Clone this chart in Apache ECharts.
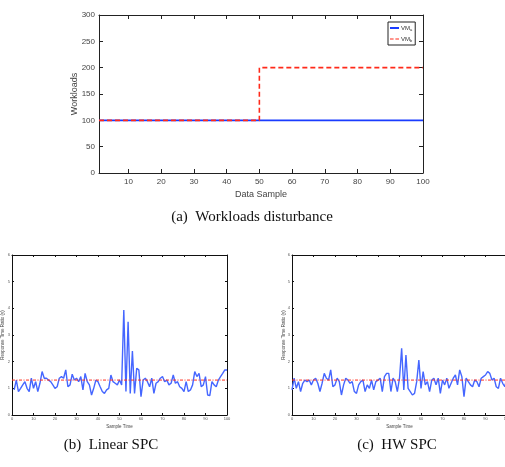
<!DOCTYPE html>
<html>
<head>
<meta charset="utf-8">
<script src="https://cdn.jsdelivr.net/npm/echarts@6/dist/echarts.min.js"></script>
<style>
html,body{margin:0;padding:0;background:#fff;}
#c{width:505px;height:467px;}
</style>
</head>
<body>
<div id="c"></div>
<script>
// ---- Data ----
// (a) Workloads disturbance: step functions [sample, workload]
var vmA = [[1, 100], [100, 100]];
var vmB = [[1, 100], [50, 100], [50, 200], [100, 200]];
var workloadTicks = [10, 20, 30, 40, 50, 60, 70, 80, 90, 100];

// (b) Linear SPC response time ratio, samples 1..100
var linearStart = 1;
var linearSPC = [
  0.94,1.31,0.88,1.0,1.13,1.25,1.0,0.88,1.38,1.0,
  1.25,0.88,1.19,1.63,1.38,1.38,1.31,1.25,1.13,1.0,
  1.06,1.38,1.44,1.38,1.69,1.06,1.13,1.53,1.31,1.38,
  1.25,1.44,0.94,1.56,1.25,1.13,0.75,1.0,1.31,1.25,
  1.06,0.88,0.81,0.94,1.0,1.5,1.25,1.19,1.13,1.31,
  1.13,3.94,0.88,3.5,0.81,2.4,0.81,1.75,1.69,0.69,
  1.31,1.38,1.25,1.06,1.38,0.81,1.19,1.25,1.38,1.44,
  1.25,1.31,1.13,1.19,1.5,1.19,1.25,1.06,1.0,0.88,
  1.25,0.88,0.94,1.13,1.63,1.44,1.56,1.06,1.13,1.44,
  0.75,0.73,1.25,1.13,1.06,1.31,1.44,1.56,1.69,1.69
];
// (c) HW SPC response time ratio, samples 0..100
var hwStart = 0;
var hwSPC = [
  0.94,1.38,1.0,1.25,0.88,1.19,1.31,1.25,1.31,1.13,
  1.31,1.38,1.19,0.88,1.19,1.56,1.38,1.31,1.69,1.06,
  1.13,1.38,1.25,0.75,1.13,1.38,1.31,1.19,1.25,0.88,
  0.81,1.13,1.25,1.31,0.88,1.13,1.0,1.31,0.94,1.25,
  1.31,1.38,0.88,1.44,1.56,1.56,0.88,1.38,1.25,0.88,
  1.38,2.5,0.94,2.25,1.0,0.88,0.75,0.81,1.25,2.06,
  1.0,1.63,1.13,1.25,0.88,1.31,1.38,1.13,1.38,0.81,
  1.31,1.13,1.38,1.0,1.19,1.38,1.5,1.13,1.69,1.44,
  0.69,1.38,1.25,1.13,1.06,1.31,1.25,1.06,1.38,1.44,
  1.5,1.63,1.56,1.31,1.38,1.06,1.0,1.38,1.19,1.06,1.44
];
var controlLimit = 1.31;
var controlRange = [0, 100];

// ---- Build ----
function pairs(arr, start) { return arr.map(function (v, i) { return [start + i, v]; }); }
function limitLine() { return controlRange.map(function (x) { return [x, controlLimit]; }); }

var sans = 'Liberation Sans, Arial, sans-serif';
var serif = 'Liberation Serif, Times New Roman, serif';

function smallX(gi, pos, labels) {
  return {
    gridIndex: gi, type: 'value', position: pos, min: 0, max: 100, interval: 10,
    axisLine: { show: true, onZero: false, lineStyle: { color: '#111', width: 1 } },
    axisTick: { show: true, inside: true, length: 2, lineStyle: { color: '#111' } },
    axisLabel: { show: labels, fontSize: 4, color: '#555', margin: 2, fontFamily: sans, hideOverlap: false },
    splitLine: { show: false },
    name: labels ? 'Sample Time' : '', nameLocation: 'middle', nameGap: 9, nameMoveOverlap: false,
    nameTextStyle: { fontSize: 4.5, color: '#444', fontFamily: sans }
  };
}
function smallY(gi, pos, labels, nameGap) {
  return {
    gridIndex: gi, type: 'value', position: pos, min: 0, max: 6, interval: 1,
    axisLine: { show: true, onZero: false, lineStyle: { color: '#111', width: 1 } },
    axisTick: { show: true, inside: true, length: 2, lineStyle: { color: '#111' } },
    axisLabel: { show: labels, fontSize: 4, color: '#555', margin: 2, fontFamily: sans },
    splitLine: { show: false },
    name: labels ? 'Response Time Ratio (y)' : '', nameLocation: 'middle', nameGap: nameGap, nameMoveOverlap: false,
    nameTextStyle: { fontSize: 4.5, color: '#444', fontFamily: sans }
  };
}

var topAxisLine = { show: true, onZero: false, lineStyle: { color: '#222', width: 1 } };
var topTick = { show: true, inside: true, length: 4, lineStyle: { color: '#222' } };

var option = {
  animation: false,
  backgroundColor: '#fff',
  grid: [
    { left: 99, top: 15, width: 324, height: 158, outerBoundsMode: 'none', containLabel: false },
    { left: 12, top: 255, width: 215, height: 160, outerBoundsMode: 'none', containLabel: false },
    { left: 292, top: 255, width: 215, height: 160, outerBoundsMode: 'none', containLabel: false }
  ],
  xAxis: [
    { gridIndex: 0, type: 'value', position: 'bottom', min: 1, max: 100,
      axisLine: topAxisLine,
      axisTick: Object.assign({ customValues: workloadTicks }, topTick),
      axisLabel: { customValues: workloadTicks, fontSize: 8, color: '#444', margin: 5, fontFamily: sans },
      splitLine: { show: false },
      name: 'Data Sample', nameLocation: 'middle', nameGap: 17, nameMoveOverlap: false,
      nameTextStyle: { fontSize: 9, color: '#444', fontFamily: sans } },
    { gridIndex: 0, type: 'value', position: 'top', min: 1, max: 100,
      axisLine: topAxisLine,
      axisTick: Object.assign({ customValues: workloadTicks }, topTick),
      axisLabel: { show: false }, splitLine: { show: false } },
    smallX(1, 'bottom', true), smallX(1, 'top', false),
    smallX(2, 'bottom', true), smallX(2, 'top', false)
  ],
  yAxis: [
    { gridIndex: 0, type: 'value', position: 'left', min: 0, max: 300, interval: 50,
      axisLine: topAxisLine, axisTick: topTick,
      axisLabel: { fontSize: 8, color: '#444', margin: 4, fontFamily: sans },
      splitLine: { show: false },
      name: 'Workloads', nameLocation: 'middle', nameGap: 20, nameMoveOverlap: false,
      nameTextStyle: { fontSize: 9, color: '#444', fontFamily: sans } },
    { gridIndex: 0, type: 'value', position: 'right', min: 0, max: 300, interval: 50,
      axisLine: topAxisLine, axisTick: topTick,
      axisLabel: { show: false }, splitLine: { show: false } },
    smallY(1, 'left', true, 7), smallY(1, 'right', false, 0),
    smallY(2, 'left', true, 6), smallY(2, 'right', false, 0)
  ],
  legend: {
    left: 388, top: 22, orient: 'vertical',
    borderColor: '#222', borderWidth: 1, borderRadius: 0,
    padding: [3, 3, 2, 2], itemGap: 4, itemWidth: 9, itemHeight: 2,
    data: [
      { name: 'VM_a', icon: 'rect' },
      { name: 'VM_b', icon: 'path://M0,0H4V1H0Z M6,0H10V1H6Z' }
    ],
    textStyle: {
      fontSize: 6, color: '#333', fontFamily: sans, padding: [0, 0, 0, -3],
      rich: { m: { fontSize: 6, color: '#333' }, s: { fontSize: 4, color: '#333', padding: [4, 0, 0, 0] } }
    },
    formatter: function (n) { return '{m|VM}{s|' + n.split('_')[1] + '}'; }
  },
  graphic: [
    { type: 'text', style: { text: '(a)  Workloads disturbance', font: '15px ' + serif, fill: '#111', x: 252, y: 217, textAlign: 'center', textVerticalAlign: 'middle' } },
    { type: 'text', style: { text: '(b)  Linear SPC', font: '15px ' + serif, fill: '#111', x: 111, y: 445, textAlign: 'center', textVerticalAlign: 'middle' } },
    { type: 'text', style: { text: '(c)  HW SPC', font: '15px ' + serif, fill: '#111', x: 397, y: 445, textAlign: 'center', textVerticalAlign: 'middle' } }
  ],
  series: [
    { name: 'VM_a', type: 'line', xAxisIndex: 0, yAxisIndex: 0, data: vmA, showSymbol: false,
      lineStyle: { color: '#1a3cff', width: 1.6 }, itemStyle: { color: '#1a3cff' }, z: 3 },
    { name: 'VM_b', type: 'line', xAxisIndex: 0, yAxisIndex: 0, data: vmB, showSymbol: false,
      lineStyle: { color: '#ff2a1a', width: 1.6, type: [5, 3] }, itemStyle: { color: '#ff2a1a' }, z: 4 },

    { name: 'linear', type: 'line', xAxisIndex: 2, yAxisIndex: 2, data: pairs(linearSPC, linearStart), showSymbol: false,
      lineStyle: { color: '#4566ff', width: 1.4 } },
    { name: 'limitB', type: 'line', xAxisIndex: 2, yAxisIndex: 2, data: limitLine(), showSymbol: false,
      lineStyle: { color: '#ff3020', width: 1, type: [3, 1.5, 1, 1.5] } },

    { name: 'hw', type: 'line', xAxisIndex: 4, yAxisIndex: 4, data: pairs(hwSPC, hwStart), showSymbol: false,
      lineStyle: { color: '#4566ff', width: 1.4 } },
    { name: 'limitC', type: 'line', xAxisIndex: 4, yAxisIndex: 4, data: limitLine(), showSymbol: false,
      lineStyle: { color: '#ff3020', width: 1, type: [3, 1.5, 1, 1.5] } }
  ]
};
var chart = echarts.init(document.getElementById('c'), null, { renderer: 'canvas' });
chart.setOption(option);
</script>
</body>
</html>
